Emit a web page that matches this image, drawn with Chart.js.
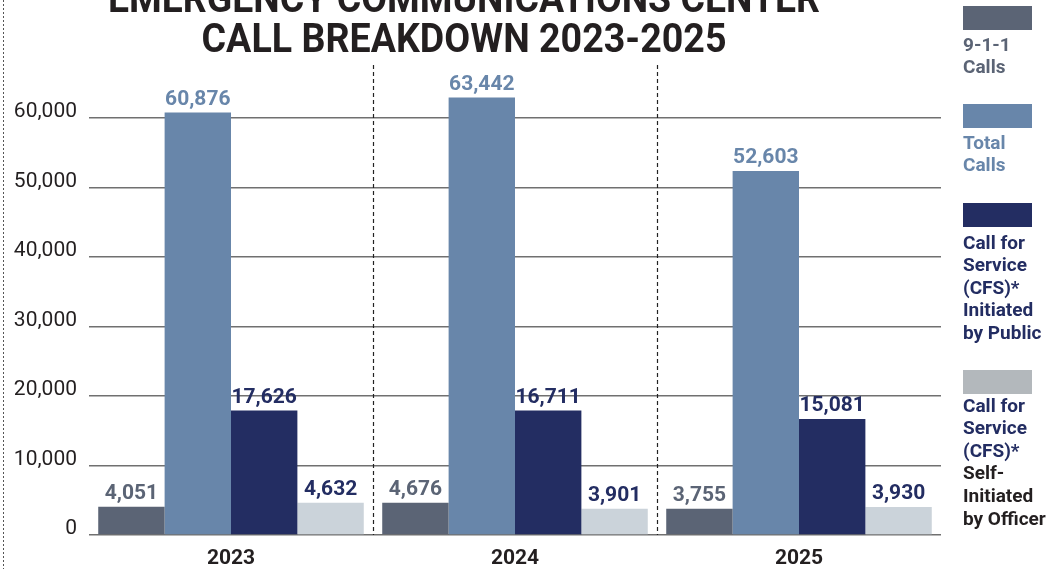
<!DOCTYPE html>
<html>
<head>
<meta charset="utf-8">
<script src="https://cdn.jsdelivr.net/npm/chart.js@4.4.1/dist/chart.umd.min.js"></script>
<style>
  html, body { margin: 0; padding: 0; background: #fff; }
  #wrap { width: 1060px; height: 569px; position: relative; }
</style>
</head>
<body>
<div id="wrap"><canvas id="chartCanvas"></canvas></div>
<script>
// categories
const years = ["2023", "2024", "2025"];

// bar heights as drawn in the picture
const calls911 = [4070, 4650, 3780];
const totalCalls = [60760, 62920, 52370];
const cfsPublic = [17890, 17890, 16690];
const cfsOfficer = [4650, 3780, 4030];

// printed value labels
const labels911 = ["4,051", "4,676", "3,755"];
const labelsTotal = ["60,876", "63,442", "52,603"];
const labelsPublic = ["17,626", "16,711", "15,081"];
const labelsOfficer = ["4,632", "3,901", "3,930"];

// y axis ticks
const yTicks = [0, 10000, 20000, 30000, 40000, 50000, 60000];
const yMax = 67600;

// title and legend text
const titleLines = ["EMERGENCY COMMUNICATIONS CENTER", "CALL BREAKDOWN 2023-2025"];
const legendLines = [
  ["9-1-1", "Calls"],
  ["Total", "Calls"],
  ["Call for", "Service", "(CFS)*", "Initiated", "by Public"],
  ["Call for", "Service", "(CFS)*", "Self-", "Initiated", "by Officer"]
];

const GRAY = "#5b6475";
const BLUE = "#6886aa";
const NAVY = "#232d62";
const LIGHT = "#cbd3da";
const INK = "#231f20";

// value labels above bars
const barLabels = {
  id: "barLabels",
  afterDatasetsDraw(chart) {
    const ctx = chart.ctx;
    ctx.save();
    ctx.font = "bold 21px Roboto";
    ctx.textAlign = "center";
    ctx.textBaseline = "alphabetic";
    chart.data.datasets.forEach((ds, i) => {
      const meta = chart.getDatasetMeta(i);
      ctx.fillStyle = ds.labelColor;
      meta.data.forEach((bar, j) => {
        ctx.fillText(ds.valueLabels[j], bar.x, bar.y - 8);
      });
    });
    ctx.restore();
  }
};

// dashed dividers, page border, title and legend
const decorations = {
  id: "decorations",
  beforeDatasetsDraw(chart) {
    const ctx = chart.ctx;
    const x = chart.scales.x;
    const area = chart.chartArea;
    ctx.save();
    ctx.strokeStyle = "#222";
    ctx.lineWidth = 1.2;
    ctx.setLineDash([4, 3]);
    for (let i = 0; i < years.length - 1; i++) {
      const px = Math.round((x.getPixelForValue(i) + x.getPixelForValue(i + 1)) / 2) + 0.5;
      ctx.beginPath();
      ctx.moveTo(px, area.top);
      ctx.lineTo(px, area.bottom);
      ctx.stroke();
    }
    ctx.restore();
  },
  afterDraw(chart) {
    const ctx = chart.ctx;
    ctx.save();

    // left page border
    ctx.strokeStyle = "#555";
    ctx.lineWidth = 1;
    ctx.setLineDash([2, 2]);
    ctx.beginPath();
    ctx.moveTo(3.5, 0);
    ctx.lineTo(3.5, chart.height);
    ctx.stroke();
    ctx.setLineDash([]);

    // title, fitted to width
    ctx.fillStyle = INK;
    ctx.font = "bold 41px Roboto";
    ctx.textAlign = "center";
    ctx.textBaseline = "alphabetic";
    const titleWidths = [712, 525];
    const titleBase = [12, 52];
    titleLines.forEach((t, i) => {
      const w = ctx.measureText(t).width;
      const sx = titleWidths[i] / w;
      ctx.save();
      ctx.translate(464, titleBase[i]);
      ctx.scale(sx, 1);
      ctx.fillText(t, 0, 0);
      ctx.restore();
    });

    // legend
    const swatchColors = [GRAY, BLUE, NAVY, "#b3b8bc"];
    const swatchTop = [6, 104, 203, 370];
    const textTop = [37, 135, 235, 398];
    const lineColors = [
      [GRAY, GRAY],
      [BLUE, BLUE],
      [NAVY, NAVY, NAVY, NAVY, NAVY],
      [NAVY, NAVY, NAVY, INK, INK, INK]
    ];
    ctx.textAlign = "left";
    ctx.font = "bold 19px Roboto";
    legendLines.forEach((lines, i) => {
      ctx.fillStyle = swatchColors[i];
      ctx.fillRect(963, swatchTop[i], 69, 24);
      lines.forEach((ln, k) => {
        ctx.fillStyle = lineColors[i][k];
        ctx.fillText(ln, 963, textTop[i] + 13.5 + k * 22.6);
      });
    });
    ctx.restore();
  }
};

const ctx = document.getElementById("chartCanvas").getContext("2d");
new Chart(ctx, {
  type: "bar",
  data: {
    labels: years,
    datasets: [
      { label: "9-1-1 Calls", data: calls911, backgroundColor: GRAY, valueLabels: labels911, labelColor: GRAY },
      { label: "Total Calls", data: totalCalls, backgroundColor: BLUE, valueLabels: labelsTotal, labelColor: BLUE },
      { label: "CFS Initiated by Public", data: cfsPublic, backgroundColor: NAVY, valueLabels: labelsPublic, labelColor: NAVY },
      { label: "CFS Self-Initiated by Officer", data: cfsOfficer, backgroundColor: LIGHT, valueLabels: labelsOfficer, labelColor: NAVY }
    ]
  },
  options: {
    responsive: true,
    maintainAspectRatio: false,
    animation: false,
    layout: { padding: { top: 65, right: 119, bottom: 0, left: 0 } },
    datasets: { bar: { barPercentage: 1, categoryPercentage: 0.935 } },
    plugins: {
      legend: { display: false },
      tooltip: { enabled: false }
    },
    scales: {
      x: {
        grid: { display: false },
        border: { display: false },
        ticks: { color: INK, font: { family: "Roboto", size: 21, weight: "bold" }, padding: 3 },
        afterFit: scale => { scale.height = 34; }
      },
      y: {
        min: 0,
        max: yMax,
        grid: { color: "#707070", lineWidth: 1.6, drawTicks: false },
        border: { display: false },
        ticks: {
          padding: 12,
          labelOffset: -6,
          color: INK,
          font: { family: "Roboto", size: 21 },
          callback: v => v.toLocaleString("en-US")
        },
        afterBuildTicks: scale => {
          scale.ticks = yTicks.map(v => ({ value: v }));
        },
        afterFit: scale => { scale.width = 89; }
      }
    }
  },
  plugins: [decorations, barLabels]
});
</script>
</body>
</html>
